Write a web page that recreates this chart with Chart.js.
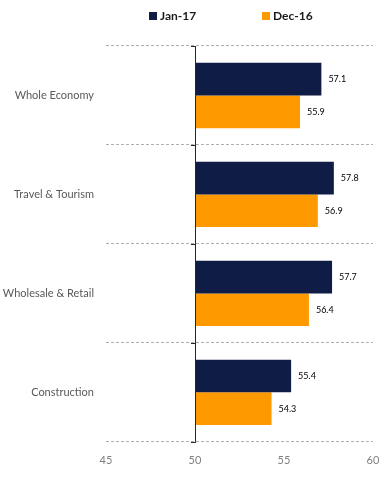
<!DOCTYPE html>
<html>
<head>
<meta charset="utf-8">
<script src="https://cdn.jsdelivr.net/npm/chart.js@4/dist/chart.umd.min.js"></script>
<style>
    html, body { margin: 0; padding: 0; background: #fff; }
    #chart { display: block; }
</style>
</head>
<body>
<canvas id="chart" width="387" height="483"></canvas>
<script>
const categories = ["Whole Economy", "Travel & Tourism", "Wholesale & Retail", "Construction"];
const jan17 = [57.1, 57.8, 57.7, 55.4];
const dec16 = [55.9, 56.9, 56.4, 54.3];
const seriesNames = ["Jan-17", "Dec-16"];
const xTicks = [45, 50, 55, 60];
const seriesValues = [jan17, dec16];

const FONT = "Lato, 'Open Sans', sans-serif";

// Legend drawn on top of the canvas, wide spacing like the original
const topLegend = {
    id: "topLegend",
    afterDraw(chart) {
        const ctx = chart.ctx;
        const xs = [149, 262];
        ctx.save();
        ctx.font = "bold 12px " + FONT;
        ctx.textBaseline = "middle";
        chart.data.datasets.forEach((ds, i) => {
            ctx.fillStyle = ds.backgroundColor;
            ctx.fillRect(xs[i], 12, 8, 8);
            ctx.fillStyle = "#1a1a1a";
            ctx.fillText(ds.label, xs[i] + 11, 16.5);
        });
        ctx.restore();
    }
};

// Axis line at 50 with small ticks at category boundaries
const baseLine = {
    id: "baseLine",
    afterDatasetsDraw(chart) {
        const ctx = chart.ctx;
        const x = Math.round(chart.scales.x.getPixelForValue(50));
        const area = chart.chartArea;
        const y = chart.scales.y;
        ctx.save();
        ctx.strokeStyle = "#262626";
        ctx.lineWidth = 1;
        ctx.beginPath();
        ctx.moveTo(x + 0.5, area.top);
        ctx.lineTo(x + 0.5, area.bottom);
        for (let i = 0; i <= categories.length; i++) {
            const ty = Math.round(y.getPixelForValue(i - 0.5)) + 0.5;
            ctx.moveTo(x - 4, ty);
            ctx.lineTo(x + 1, ty);
        }
        ctx.stroke();
        ctx.restore();
    }
};

// Value labels at the end of each bar
const valueLabels = {
    id: "valueLabels",
    afterDatasetsDraw(chart) {
        const ctx = chart.ctx;
        ctx.save();
        ctx.font = "9px " + FONT;
        ctx.fillStyle = "#000";
        ctx.textBaseline = "middle";
        seriesValues.forEach((vals, i) => {
            chart.getDatasetMeta(i).data.forEach((bar, j) => {
                ctx.fillText(vals[j].toFixed(1), bar.x + 7, bar.y);
            });
        });
        ctx.restore();
    }
};

new Chart(document.getElementById("chart"), {
    type: "bar",
    data: {
        labels: categories,
        datasets: [
            { label: seriesNames[0], data: jan17.map(v => [50, v]), backgroundColor: "#0f1c45" },
            { label: seriesNames[1], data: dec16.map(v => [50, v]), backgroundColor: "#ff9900" }
        ]
    },
    options: {
        indexAxis: "y",
        responsive: false,
        animation: false,
        layout: { padding: { top: 46, right: 0, bottom: 4, left: 0 } },
        categoryPercentage: 0.66,
        barPercentage: 1,
        plugins: {
            legend: { display: false },
            tooltip: { enabled: false }
        },
        scales: {
            x: {
                min: 45,
                max: 60,
                afterBuildTicks: scale => { scale.ticks = xTicks.map(v => ({ value: v })); },
                afterFit: scale => { scale.paddingRight = 14; },
                grid: { display: false, drawTicks: false },
                border: { display: false },
                ticks: { color: "#808080", font: { family: FONT, size: 11 }, padding: 12 }
            },
            y: {
                afterFit: scale => { scale.width = 106; },
                grid: {
                    offset: true,
                    color: "#b0b0b0",
                    drawTicks: false,
                    lineWidth: 1
                },
                border: { display: false, dash: [3, 2] },
                ticks: { color: "#595959", font: { family: FONT, size: 11 }, padding: 12 }
            }
        }
    },
    plugins: [topLegend, baseLine, valueLabels]
});
</script>
</body>
</html>
